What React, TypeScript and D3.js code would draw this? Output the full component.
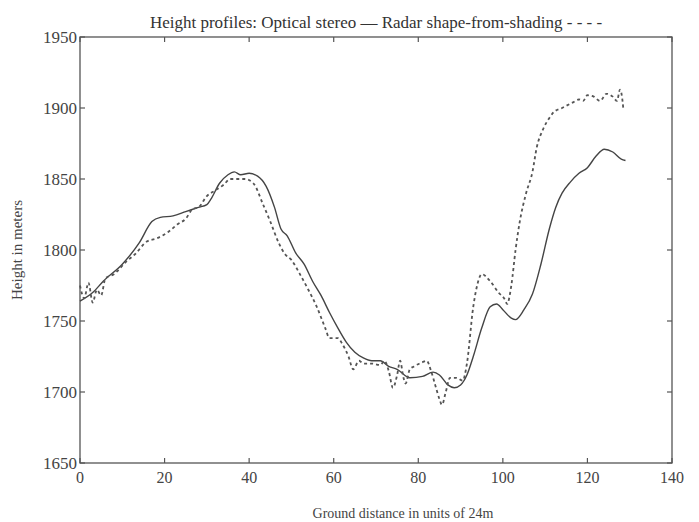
import { useMemo } from "react";
import * as d3 from "d3";

// Optical stereo profile (solid line)
const stereoX = [0, 3, 5.5, 10, 14, 17, 19, 22, 25, 28, 30, 31, 33, 35, 36.5, 38, 40, 42, 44, 46, 47.5, 49, 51, 53, 55, 57, 59, 61, 63, 65, 67, 69, 71, 73, 75, 78, 81, 83.5, 85, 87, 88.5, 90, 91.5, 93, 95, 97, 98.5, 100, 102, 103, 105, 107, 109, 111, 112.5, 114, 116, 118, 120, 122, 124, 126, 128, 129];
const stereoY = [1764, 1770, 1778, 1790, 1805, 1820, 1823, 1824, 1827, 1830, 1832, 1836, 1847, 1853, 1855, 1853, 1854, 1852, 1845, 1830, 1815, 1810, 1798, 1790, 1778, 1768, 1756, 1745, 1735, 1728, 1724, 1722, 1722, 1718, 1716, 1710, 1711, 1714, 1712, 1705, 1703, 1705, 1712, 1725, 1745, 1760, 1762, 1758, 1752, 1751, 1758, 1769, 1790, 1815, 1830, 1840, 1848, 1854, 1858, 1866, 1871, 1869, 1864, 1863];

// Radar shape-from-shading profile (dotted line)
const radarX = [0, 1, 2, 3, 4, 5, 6, 8, 11, 13, 15.8, 18, 21, 23, 25, 26.7, 28, 30, 32, 34, 35.5, 37, 39, 41, 43.3, 45, 47, 48.5, 50, 52, 54, 56, 58, 59, 61, 62, 63.5, 64.6, 66, 67, 69, 71, 72, 73, 74, 75, 75.7, 76.5, 77, 78, 79, 81, 82, 83, 84, 85, 85.6, 86.5, 87.5, 89, 90.5, 91.5, 93, 94, 95, 97, 99, 100.5, 101, 102, 103, 104, 105.5, 107, 108, 109.5, 111, 112, 114, 116.6, 118, 119, 120, 121.5, 123, 124.5, 126, 127, 127.7, 128.3, 128.5];
const radarY = [1775, 1766, 1777, 1763, 1772, 1768, 1780, 1783, 1792, 1797, 1806, 1808, 1813, 1818, 1822, 1829, 1830, 1838, 1842, 1846, 1850, 1850, 1850, 1847, 1832, 1820, 1805, 1797, 1793, 1783, 1772, 1760, 1745, 1738, 1738, 1734, 1725, 1716, 1722, 1720, 1720, 1719, 1722, 1715, 1703, 1712, 1722, 1710, 1706, 1716, 1718, 1721, 1722, 1715, 1705, 1695, 1691, 1700, 1710, 1710, 1708, 1720, 1760, 1776, 1783, 1778, 1770, 1765, 1762, 1775, 1800, 1820, 1840, 1855, 1872, 1885, 1893, 1897, 1900, 1904, 1906, 1905, 1909, 1908, 1905, 1910, 1908, 1905, 1913, 1905, 1899];

const xTicks = [0, 20, 40, 60, 80, 100, 120, 140];
const yTicks = [1650, 1700, 1750, 1800, 1850, 1900, 1950];

const W = 699;
const H = 522;
const margin = { top: 37, right: 27, bottom: 59, left: 80 };
const ink = "#555";
const font = "'Liberation Serif', 'Times New Roman', serif";

export default function App() {
  const x = useMemo(
    () => d3.scaleLinear().domain([0, 140]).range([margin.left, W - margin.right]),
    []
  );
  const y = useMemo(
    () => d3.scaleLinear().domain([1650, 1950]).range([H - margin.bottom, margin.top]),
    []
  );

  const line = d3
    .line<[number, number]>()
    .x((d) => x(d[0]))
    .y((d) => y(d[1]))
    .curve(d3.curveMonotoneX);

  const stereo = stereoX.map((v, i) => [v, stereoY[i]] as [number, number]);
  const radar = radarX.map((v, i) => [v, radarY[i]] as [number, number]);

  const x0 = x(0);
  const x1 = x(140);
  const y0 = y(1650);
  const y1 = y(1950);
  const tick = 5;

  return (
    <svg
      width={W}
      height={H}
      style={{ position: "absolute", left: 0, top: 0, background: "#fff" }}
      fontFamily={font}
    >
      <text x={376} y={28} textAnchor="middle" fontSize={17} fill="#333">
        Height profiles: Optical stereo — Radar shape-from-shading - - - -
      </text>

      {/* frame */}
      <rect x={x0} y={y1} width={x1 - x0} height={y0 - y1} fill="none" stroke={ink} strokeWidth={1.3} />

      {xTicks.map((t) => (
        <g key={"x" + t}>
          <line x1={x(t)} x2={x(t)} y1={y0} y2={y0 - tick} stroke={ink} strokeWidth={1.2} />
          <line x1={x(t)} x2={x(t)} y1={y1} y2={y1 + tick} stroke={ink} strokeWidth={1.2} />
          <text x={x(t)} y={y0 + 20} textAnchor="middle" fontSize={16} fill="#444">
            {t}
          </text>
        </g>
      ))}

      {yTicks.map((t) => (
        <g key={"y" + t}>
          <line x1={x0} x2={x0 + tick} y1={y(t)} y2={y(t)} stroke={ink} strokeWidth={1.2} />
          <line x1={x1} x2={x1 - tick} y1={y(t)} y2={y(t)} stroke={ink} strokeWidth={1.2} />
          <text x={x0 - 3} y={y(t)} dy="0.35em" textAnchor="end" fontSize={17} fill="#444">
            {t}
          </text>
        </g>
      ))}

      <path d={line(stereo) ?? ""} fill="none" stroke="#444" strokeWidth={1.4} />
      <path
        d={line(radar) ?? ""}
        fill="none"
        stroke="#555"
        strokeWidth={1.8}
        strokeDasharray="3,3"
      />

      <text x={403} y={518} textAnchor="middle" fontSize={14} fill="#444">
        Ground distance in units of 24m
      </text>
      <text
        transform={`translate(22,${(y0 + y1) / 2}) rotate(-90)`}
        textAnchor="middle"
        fontSize={15}
        fill="#444"
      >
        Height in meters
      </text>
    </svg>
  );
}
